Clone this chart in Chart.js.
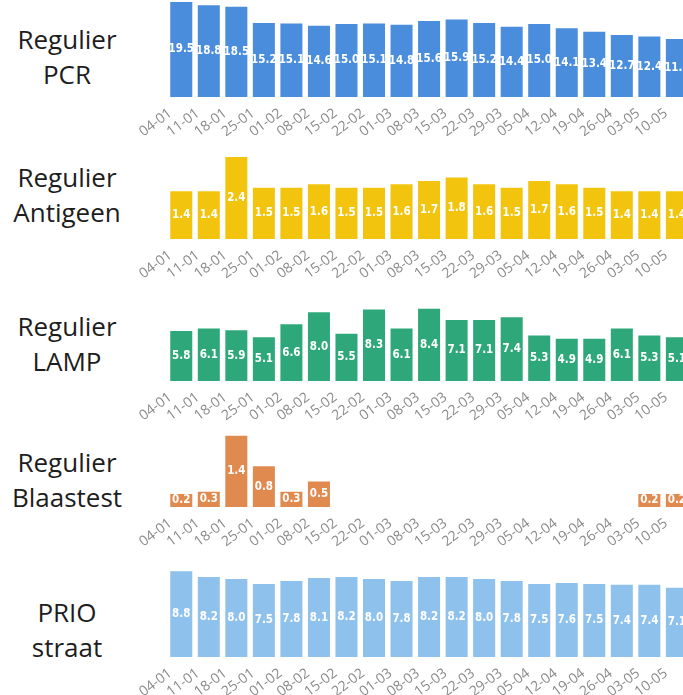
<!DOCTYPE html>
<html><head><meta charset="utf-8">
<script src="https://cdn.jsdelivr.net/npm/chart.js@4/dist/chart.umd.min.js"></script>
<style>
html,body{margin:0;padding:0;width:683px;height:695px;overflow:hidden;background:#fff;}
.panel{position:absolute;left:0;}
.lbl{position:absolute;left:0;width:134px;text-align:center;font-family:'Open Sans',sans-serif;font-size:26px;line-height:35px;color:#1d1d1d;}
</style></head><body>
<script>
// ---- data ----
const weeks = ['04-01','11-01','18-01','25-01','01-02','08-02','15-02','22-02','01-03','08-03','15-03','22-03','29-03','05-04','12-04','19-04','26-04','03-05','10-05'];
const pcr       = [19.5,18.8,18.5,15.2,15.1,14.6,15.0,15.1,14.8,15.6,15.9,15.2,14.4,15.0,14.1,13.4,12.7,12.4,11.9];
const antigeen  = [1.4,1.4,2.4,1.5,1.5,1.6,1.5,1.5,1.6,1.7,1.8,1.6,1.5,1.7,1.6,1.5,1.4,1.4,1.4];
const lamp      = [5.8,6.1,5.9,5.1,6.6,8.0,5.5,8.3,6.1,8.4,7.1,7.1,7.4,5.3,4.9,4.9,6.1,5.3,5.1];
const blaastest = [0.2,0.3,1.4,0.8,0.3,0.5,null,null,null,null,null,null,null,null,null,null,null,0.2,0.2];
const prio      = [8.8,8.2,8.0,7.5,7.8,8.1,8.2,8.0,7.8,8.2,8.2,8.0,7.8,7.5,7.6,7.5,7.4,7.4,7.1];
const rowTitles = [['Regulier','PCR'],['Regulier','Antigeen'],['Regulier','LAMP'],['Regulier','Blaastest'],['PRIO','straat']];

// ---- layout / style ----
const AXIS_H = 42;
const panels = [
  {data:pcr,       color:'#4a8ddc', top:0,   plotH:97, max:19.9, titleTop:22,  minBar:0},
  {data:antigeen,  color:'#f2c40e', top:145, plotH:94, max:2.75, titleTop:160, minBar:0},
  {data:lamp,      color:'#2ea87a', top:290, plotH:91, max:10.58,titleTop:309, minBar:0},
  {data:blaastest, color:'#e08a50', top:425, plotH:82, max:1.61, titleTop:445, minBar:13},
  {data:prio,      color:'#8ec1ec', top:560, plotH:97, max:9.95, titleTop:595, minBar:0}
];

const valueLabels = {
  id:'valueLabels',
  afterDatasetsDraw(chart){
    const ctx = chart.ctx;
    const meta = chart.getDatasetMeta(0);
    const vals = chart.data.datasets[0].data;
    ctx.save();
    ctx.fillStyle = '#ffffff';
    ctx.font = 'bold 11.5px "DejaVu Sans Condensed"';
    ctx.textAlign = 'center';
    ctx.textBaseline = 'middle';
    meta.data.forEach((bar,i)=>{
      const v = vals[i];
      if (v == null) return;
      ctx.fillText(v.toFixed(1), bar.x, (bar.y + bar.base)/2);
    });
    ctx.restore();
  }
};

panels.forEach((p, idx) => {
  const t = document.createElement('div');
  t.className = 'lbl';
  t.style.top = p.titleTop + 'px';
  t.innerHTML = rowTitles[idx].join('<br>');
  document.body.appendChild(t);

  const c = document.createElement('canvas');
  c.className = 'panel';
  c.width = 695;
  c.height = p.plotH + AXIS_H;
  c.style.top = p.top + 'px';
  document.body.appendChild(c);

  new Chart(c.getContext('2d'), {
    type:'bar',
    data:{labels:weeks, datasets:[{data:p.data, backgroundColor:p.color, barPercentage:0.8, categoryPercentage:1, minBarLength:p.minBar}]},
    options:{
      responsive:false, animation:false, devicePixelRatio:1,
      layout:{padding:{left:167.5, right:0, top:0, bottom:0}},
      plugins:{legend:{display:false}, tooltip:{enabled:false}},
      scales:{
        x:{
          grid:{display:false, drawTicks:false},
          border:{display:false},
          ticks:{autoSkip:false, minRotation:37, maxRotation:37, color:'#8a8a8a',
                 font:{family:'Open Sans', size:14}, padding:8, labelOffset:-11},
          afterFit(s){ s.height = AXIS_H; }
        },
        y:{display:false, min:0, max:p.max}
      }
    },
    plugins:[valueLabels]
  });
});
</script>
</body></html>
